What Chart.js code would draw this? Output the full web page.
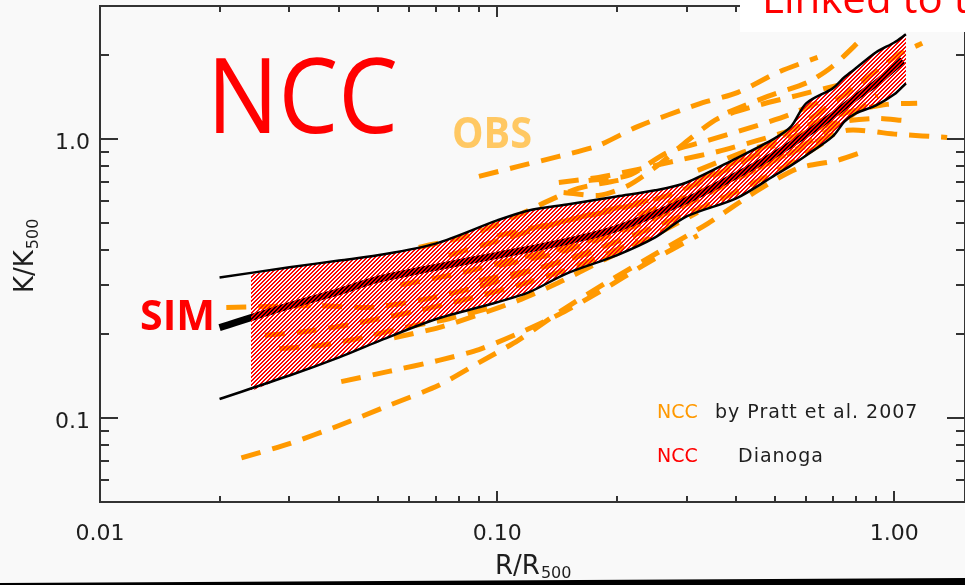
<!DOCTYPE html>
<html>
<head>
<meta charset="utf-8">
<script src="https://cdn.jsdelivr.net/npm/chart.js@4.4.0/dist/chart.umd.min.js"></script>
<style>
  html, body { margin: 0; padding: 0; background: #F9F9F9; overflow: hidden; }
  canvas { display: block; }
</style>
</head>
<body>
<canvas id="entropy" width="965" height="585"></canvas>
<script>
// ---- axes ----
const X_MAJOR = [0.01, 0.1, 1];
const X_LABELS = ['0.01', '0.10', '1.00'];
const Y_MAJOR = [0.1, 1];
const Y_LABELS = ['0.1', '1.0'];

// ---- simulated NCC (Dianoga): median and envelope ----
const MEDIAN_R = [0.02, 0.03, 0.04, 0.05, 0.07, 0.1, 0.15, 0.2, 0.3, 0.4, 0.5, 0.6, 0.7, 0.8, 0.9, 1.05];
const MEDIAN_K = [0.211, 0.253, 0.284, 0.314, 0.347, 0.383, 0.430, 0.478, 0.603, 0.741, 0.881, 1.04, 1.216, 1.41, 1.585, 1.917];

const ENV_R = [0.02, 0.03, 0.04, 0.05, 0.07, 0.1, 0.12, 0.15, 0.2, 0.25, 0.3, 0.4, 0.5, 0.55, 0.6, 0.7, 0.75, 0.8, 0.9, 1.0, 1.07];
const ENV_UPPER = [0.319, 0.347, 0.367, 0.383, 0.422, 0.511, 0.555, 0.583, 0.623, 0.655, 0.699, 0.853, 1.006, 1.11, 1.343, 1.52, 1.67, 1.794, 2.047, 2.22, 2.375];
const ENV_LOWER = [0.117, 0.142, 0.165, 0.188, 0.226, 0.260, 0.282, 0.330, 0.383, 0.444, 0.528, 0.613, 0.741, 0.805, 0.874, 1.023, 1.157, 1.236, 1.321, 1.447, 1.585];

// hatched band starts a little right of the envelope lines
const HATCH_START_R = 0.024;
const HATCH_START_UPPER = 0.327;
const HATCH_START_LOWER = 0.125;

// ---- observed NCC profiles, Pratt et al. 2007 ----
const OBS_01 = [[0.0227,0.072],[0.030,0.081],[0.040,0.094],[0.0534,0.111],[0.0713,0.131],[0.090,0.158],[0.113,0.190],[0.143,0.239],[0.187,0.304],[0.254,0.392],[0.339,0.498],[0.453,0.655],[0.571,0.785],[0.719,0.839],[0.856,0.911]];
const OBS_02 = [[0.0405,0.135],[0.0534,0.147],[0.0713,0.161],[0.090,0.176],[0.113,0.201],[0.143,0.235],[0.180,0.282],[0.240,0.361],[0.320,0.451]];
const OBS_03 = [[0.055,0.194],[0.0713,0.211],[0.090,0.235],[0.113,0.264],[0.143,0.306],[0.180,0.361],[0.240,0.440],[0.320,0.546]];
const OBS_04 = [[0.0208,0.249],[0.0267,0.251],[0.0357,0.253],[0.0476,0.249],[0.0635,0.264],[0.090,0.296],[0.127,0.344],[0.180,0.399]];
const OBS_05 = [[0.026,0.198],[0.0318,0.203],[0.040,0.213],[0.0504,0.227],[0.0635,0.243],[0.0848,0.268],[0.113,0.299],[0.160,0.352],[0.2265,0.433]];
const OBS_06 = [[0.0283,0.177],[0.0357,0.182],[0.0449,0.193],[0.0566,0.209],[0.0756,0.227],[0.101,0.253]];
const OBS_07 = [[0.0756,0.383],[0.101,0.433],[0.135,0.490],[0.180,0.546],[0.240,0.603]];
const OBS_08 = [[0.0635,0.409],[0.0848,0.451],[0.113,0.533],[0.132,0.593],[0.160,0.666],[0.202,0.711]];
const OBS_09 = [[0.090,0.735],[0.113,0.798],[0.143,0.867],[0.180,0.949],[0.2265,1.111],[0.320,1.332],[0.404,1.471],[0.509,1.735],[0.641,1.964]];
const OBS_10 = [[0.381,1.247],[0.480,1.423],[0.605,1.597],[0.699,1.823],[0.831,2.297]];
const OBS_11 = [[0.143,0.699],[0.180,0.729],[0.2265,0.779],[0.285,0.839],[0.360,0.903],[0.453,0.989],[0.571,1.092],[0.762,1.247],[0.960,1.332],[1.142,1.343]];
const OBS_12 = [[0.147,0.644],[0.180,0.628],[0.214,0.682],[0.254,0.805],[0.302,0.989],[0.360,1.186],[0.453,1.321],[0.571,1.435],[0.719,1.558]];
const OBS_13 = [[0.170,0.711],[0.214,0.741],[0.269,0.896],[0.339,0.989],[0.428,1.092],[0.539,1.216],[0.679,1.400]];
const OBS_14 = [[0.2265,0.533],[0.320,0.644],[0.453,0.785],[0.605,0.949],[0.762,1.075],[1.017,1.040],[1.359,1.014]];
const OBS_15 = [[0.320,0.772],[0.428,0.911],[0.571,1.031],[0.719,1.148],[0.906,1.186],[1.047,1.167]];
const OBS_16 = [[0.320,0.711],[0.453,0.911],[0.605,1.167],[0.808,1.558],[1.017,1.997],[1.176,2.205]];
const OBS_17 = [[0.101,0.352],[0.143,0.392],[0.202,0.463],[0.285,0.564],[0.404,0.723],[0.571,0.926],[0.762,1.186],[0.906,1.435]];
const OBS_18 = [[0.090,0.311],[0.127,0.344],[0.180,0.405],[0.254,0.490],[0.360,0.603],[0.509,0.772],[0.679,0.989]];
const OBS_19 = [[0.057,0.300],[0.080,0.330],[0.110,0.370],[0.160,0.420],[0.220,0.500],[0.300,0.600],[0.400,0.720]];
const OBS_20 = [[0.100,0.450],[0.140,0.500],[0.200,0.560],[0.280,0.640],[0.380,0.780],[0.500,0.950]];
const OBS_PROFILES = [OBS_01, OBS_02, OBS_03, OBS_04, OBS_05, OBS_06, OBS_07, OBS_08, OBS_09, OBS_10,
  OBS_11, OBS_12, OBS_13, OBS_14, OBS_15, OBS_16, OBS_17, OBS_18, OBS_19, OBS_20];

const ORANGE = '#FF9900';
const RED = '#FF0000';
const INK = '#1E1E1E';
const TICK_FONT = '22px "DejaVu Sans"';

// fine red diagonal hatch (about half red), transparent between the lines
function makeHatch() {
  const c = document.createElement('canvas');
  c.width = 4; c.height = 4;
  const g = c.getContext('2d');
  g.fillStyle = RED;
  for (let i = 0; i < 4; i++) {
    g.fillRect(i, 3 - i, 1, 1);
    g.fillRect(i, (4 - i) % 4, 1, 1);
  }
  return g.createPattern(c, 'repeat');
}

const pairs = (list) => list.map(([r, k]) => ({ x: r, y: k }));
const zipPts = (rs, ks) => rs.map((r, i) => ({ x: r, y: ks[i] }));

const obsSets = OBS_PROFILES.map((p) => ({
  data: pairs(p),
  borderColor: ORANGE,
  borderWidth: 5,
  borderDash: [20, 12],
  borderCapStyle: 'butt',
  tension: 0.25,
  pointRadius: 0,
  fill: false,
  order: 10
}));

const hatchUpper = [{ x: HATCH_START_R, y: HATCH_START_UPPER }, ...zipPts(ENV_R, ENV_UPPER).slice(1)];
const hatchLower = [{ x: HATCH_START_R, y: HATCH_START_LOWER }, ...zipPts(ENV_R, ENV_LOWER).slice(1)];
const lowerIdx = obsSets.length + 2;

const datasets = [
  ...obsSets,
  { // median
    data: zipPts(MEDIAN_R, MEDIAN_K),
    borderColor: '#000000', borderWidth: 7, tension: 0.3,
    pointRadius: 0, fill: false, order: 5
  },
  { // hatched band
    data: hatchUpper,
    borderColor: 'rgba(0,0,0,0)', borderWidth: 1, tension: 0.3,
    backgroundColor: makeHatch(), fill: { target: lowerIdx },
    pointRadius: 0, order: 2
  },
  {
    data: hatchLower,
    borderColor: 'rgba(0,0,0,0)', borderWidth: 1, tension: 0.3,
    pointRadius: 0, fill: false, order: 3
  },
  { // envelope lines
    data: zipPts(ENV_R, ENV_UPPER),
    borderColor: '#000000', borderWidth: 2.5, tension: 0.3,
    pointRadius: 0, fill: false, order: 1
  },
  {
    data: zipPts(ENV_R, ENV_LOWER),
    borderColor: '#000000', borderWidth: 2.5, tension: 0.3,
    pointRadius: 0, fill: false, order: 1
  }
];

function fitText(ctx, text, left, base, width) {
  const w = ctx.measureText(text).width;
  ctx.save();
  ctx.translate(left, base);
  ctx.scale(width / w, 1);
  ctx.fillText(text, 0, 0);
  ctx.restore();
}

const decor = {
  id: 'decor',
  beforeDraw(chart) {
    const ctx = chart.ctx;
    ctx.save();
    ctx.fillStyle = '#F9F9F9';
    ctx.fillRect(0, 0, chart.width, chart.height);
    ctx.restore();
  },
  afterDraw(chart) {
    const { ctx, chartArea: a } = chart;
    const xs = chart.scales.x, ys = chart.scales.y;
    ctx.save();

    // frame
    ctx.strokeStyle = '#333333';
    ctx.lineWidth = 2;
    ctx.strokeRect(a.left, a.top, a.right - a.left, a.bottom - a.top);

    // x ticks, bottom and top, pointing inward
    const tickX = (v, len) => {
      const px = Math.round(xs.getPixelForValue(v));
      ctx.beginPath();
      ctx.moveTo(px, a.bottom); ctx.lineTo(px, a.bottom - len);
      ctx.moveTo(px, a.top); ctx.lineTo(px, a.top + len);
      ctx.stroke();
    };
    X_MAJOR.forEach((d) => {
      tickX(d, 11);
      for (let m = 2; m <= 9; m++) if (m * d <= xs.max) tickX(m * d, 6);
    });
    // y ticks, left and right
    const tickY = (v, len) => {
      const py = Math.round(ys.getPixelForValue(v));
      ctx.beginPath();
      ctx.moveTo(a.left, py); ctx.lineTo(a.left + len, py);
      ctx.moveTo(a.right, py); ctx.lineTo(a.right - len, py);
      ctx.stroke();
    };
    [0.01, 0.1, 1].forEach((d) => {
      for (let m = 2; m <= 9; m++) {
        const v = m * d;
        if (v > ys.min && v < ys.max) tickY(v, 9);
      }
    });
    Y_MAJOR.forEach((v) => tickY(v, 18));

    // tick labels
    ctx.fillStyle = INK;
    ctx.font = TICK_FONT;
    ctx.textAlign = 'center';
    ctx.textBaseline = 'alphabetic';
    X_MAJOR.forEach((v, i) => ctx.fillText(X_LABELS[i], xs.getPixelForValue(v), 540));
    ctx.textAlign = 'right';
    Y_MAJOR.forEach((v, i) => ctx.fillText(Y_LABELS[i], 90, ys.getPixelForValue(v) + 10));

    // axis titles with subscripts
    ctx.textAlign = 'left';
    ctx.font = '26px "DejaVu Sans"';
    ctx.fillText('R/R', 495, 574);
    let w = ctx.measureText('R/R').width;
    ctx.font = '16px "DejaVu Sans"';
    ctx.fillText('500', 495 + w + 1, 578);

    ctx.save();
    ctx.translate(33, 293);
    ctx.rotate(-Math.PI / 2);
    ctx.font = '26px "DejaVu Sans"';
    ctx.fillText('K/K', 0, 0);
    w = ctx.measureText('K/K').width;
    ctx.font = '16px "DejaVu Sans"';
    ctx.fillText('500', w + 1, 5);
    ctx.restore();

    // legend
    ctx.font = '19px "DejaVu Sans"';
    ctx.fillStyle = ORANGE;
    ctx.fillText('NCC', 657, 418);
    ctx.fillStyle = RED;
    ctx.fillText('NCC', 657, 462);
    ctx.fillStyle = INK;
    ctx.letterSpacing = '1px';
    ctx.fillText('by Pratt et al. 2007', 715, 418);
    ctx.fillText('Dianoga', 738, 462);
    ctx.letterSpacing = '0px';

    // slide annotations
    ctx.fillStyle = RED;
    ctx.font = '105px "Open Sans"';
    fitText(ctx, 'NCC', 207, 133, 191);
    ctx.font = 'bold 42px "Open Sans"';
    fitText(ctx, 'SIM', 140, 330, 75);
    ctx.fillStyle = '#FFC863';
    ctx.font = 'bold 43px "Open Sans"';
    fitText(ctx, 'OBS', 452, 148, 80);

    // white caption box, top right
    ctx.fillStyle = '#FFFFFF';
    ctx.fillRect(740, 0, chart.width - 740, 32);
    ctx.fillStyle = RED;
    ctx.font = '42px "Open Sans"';
    ctx.fillText('Linked to the', 762, 13);

    // dark edge at the bottom of the screenshot
    ctx.fillStyle = '#000000';
    ctx.beginPath();
    ctx.moveTo(0, 583); ctx.lineTo(chart.width, 578);
    ctx.lineTo(chart.width, chart.height); ctx.lineTo(0, chart.height);
    ctx.closePath();
    ctx.fill();

    ctx.restore();
  }
};

new Chart(document.getElementById('entropy'), {
  type: 'line',
  data: { datasets },
  options: {
    responsive: false,
    animation: false,
    devicePixelRatio: 1,
    layout: { padding: { left: 100, top: 6, right: -3, bottom: 83 } },
    plugins: { legend: { display: false }, tooltip: { enabled: false } },
    scales: {
      x: { type: 'logarithmic', min: 0.01, max: 1.507, display: false },
      y: { type: 'logarithmic', min: 0.05, max: 3.0, display: false }
    }
  },
  plugins: [decor]
});
</script>
</body>
</html>
